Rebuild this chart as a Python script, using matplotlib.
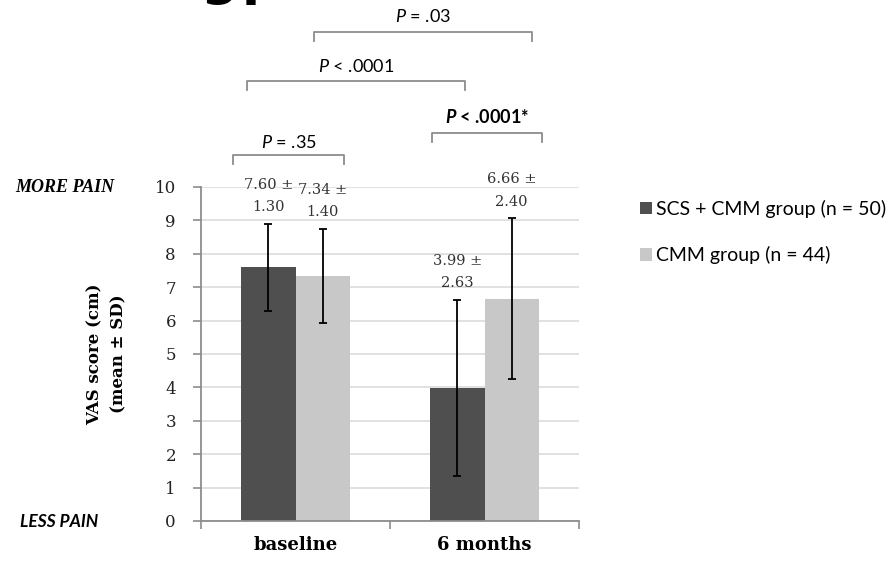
import matplotlib.pyplot as plt
import numpy as np

plt.rcParams['mathtext.fontset'] = 'custom'
plt.rcParams['mathtext.it'] = 'Lato:italic'
plt.rcParams['mathtext.rm'] = 'Lato'
plt.rcParams['mathtext.bf'] = 'Lato:bold:italic'

# data
timepoints = ['baseline', '6 months']
groups = ['SCS + CMM group (n = 50)', 'CMM group (n = 44)']
means = [[7.60, 3.99], [7.34, 6.66]]
sds = [[1.30, 2.63], [1.40, 2.40]]
colors = ['#4f4f4f', '#c8c8c8']
yticks = list(range(0, 11))

# significance brackets: (left x, right x, top y, label y, label, bold)
brackets = [
    (-0.331, 0.257, 10.96, 11.32, '$P$ = .35', False),
    (0.722, 1.304, 11.62, 12.10, r'$\mathbf{P}$ < .0001*', True),
    (-0.257, 0.897, 13.17, 13.62, '$P$ < .0001', False),
    (0.098, 1.251, 14.64, 15.09, '$P$ = .03', False),
]

serif = 'DejaVu Serif'
sans = 'Lato'

fig = plt.figure(figsize=(8.87, 5.65), dpi=100)
ax = fig.add_axes([0.2266, 0.0779, 0.4262, 0.5912])

x = np.arange(len(timepoints))
width = 0.286
offsets = [-width / 2, width / 2]

for i in range(len(groups)):
    xs = x + offsets[i]
    ax.bar(xs, means[i], width, color=colors[i], label=groups[i], zorder=2)
    ax.errorbar(xs, means[i], yerr=sds[i], fmt='none', ecolor='black',
                elinewidth=1.3, capsize=3, capthick=1.3, zorder=3)
    for xx, m, s in zip(xs, means[i], sds[i]):
        ax.annotate('%.2f \u00b1\n%.2f' % (m, s), (xx, m + s),
                    xytext=(0, 7), textcoords='offset points',
                    ha='center', va='bottom', family=serif, fontsize=10.5,
                    linespacing=1.75, color='#333333', annotation_clip=False)

ax.set_xlim(-0.5, 1.5)
ax.set_ylim(0, 10)
ax.set_yticks(yticks)
ax.set_yticklabels([str(t) for t in yticks], family=serif, fontsize=12,
                   color='#222222')
ax.yaxis.grid(True, color='#dcdcdc', lw=1.2, zorder=0)
ax.set_axisbelow(True)

# category boundaries carry the x ticks, names sit at the centres
ax.set_xticks([-0.5, 0.5, 1.5])
ax.set_xticklabels([])
ax.set_xticks(x, minor=True)
ax.set_xticklabels(timepoints, minor=True, family=serif, fontweight='bold',
                   fontsize=13)
ax.tick_params(axis='x', which='minor', length=0, pad=11)
ax.tick_params(axis='x', which='major', length=6, color='#8c8c8c', width=1.2)
ax.tick_params(axis='y', length=6, color='#8c8c8c', width=1.2, pad=12)

for side in ['top', 'right']:
    ax.spines[side].set_visible(False)
for side in ['left', 'bottom']:
    ax.spines[side].set_color('#8c8c8c')
    ax.spines[side].set_linewidth(1.3)

ax.set_ylabel('VAS score (cm)\n(mean \u00b1 SD)', family=serif,
              fontweight='bold', fontsize=12, labelpad=20, linespacing=1.5)

for x0, x1, top, ty, label, bold in brackets:
    ax.plot([x0, x0, x1, x1], [top - 0.28, top, top, top - 0.28],
            color='#8c8c8c', lw=1.3, clip_on=False)
    ax.text((x0 + x1) / 2, ty, label, ha='center', va='center',
            family=sans, fontsize=13, color='black',
            fontweight='bold' if bold else 'normal')

fig.text(15 / 887, 1 - 187 / 565, 'MORE PAIN', family='Liberation Serif',
         fontweight='bold', style='italic', fontsize=13, va='center')
fig.text(20 / 887, 1 - 522 / 565, 'LESS PAIN', family=sans,
         fontweight='bold', style='italic', fontsize=12.5, va='center')

# heading line running off the top edge, only its descenders show;
# clipped to the figure so nothing outside the canvas is drawn
for xpos, ch in [(201, 'g'), (242, 'p')]:
    t = fig.text(xpos / 887, 1 - 5 / 565, ch, family='DejaVu Sans',
                 fontweight='bold', fontsize=38, va='bottom')
    t.set_clip_box(fig.bbox)
    t.set_clip_on(True)

ax.legend(loc='upper left', bbox_to_anchor=(640 / 887, 1 - 200 / 565),
          bbox_transform=fig.transFigure, frameon=False,
          prop={'family': sans, 'size': 14}, handlelength=0.6,
          handleheight=0.6, handletextpad=0.2, labelspacing=1.45,
          borderpad=0, borderaxespad=0)

fig.savefig('out.png', dpi=100)
